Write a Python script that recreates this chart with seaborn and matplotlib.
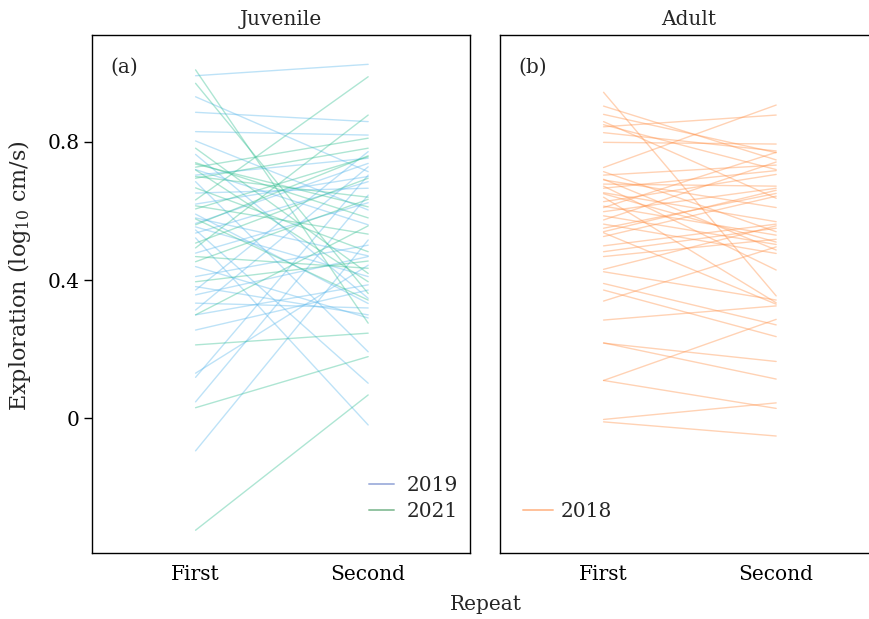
import numpy as np
import pandas as pd
import matplotlib
matplotlib.use("Agg")
import matplotlib.pyplot as plt
from matplotlib.lines import Line2D
import seaborn as sns

# Exploration scores (log10 cm/s) for the first and second trial of each individual
juv2019_first = [0.992, 0.931, 0.886, 0.830, 0.803, 0.764, 0.704, 0.685, 0.652, 0.591,
                 0.564, 0.554, 0.545, 0.536, 0.522, 0.478, 0.439, 0.410, 0.381, 0.371,
                 0.357, 0.333, 0.313, 0.299, 0.255, 0.130, 0.118, 0.047, -0.095,
                 0.720, 0.620, 0.580]
juv2019_second = [1.025, 0.714, 0.859, 0.820, 0.603, 0.347, 0.753, 0.192, 0.666, 0.332,
                  0.738, 0.410, 0.101, 0.685, -0.020, 0.624, 0.290, 0.501, 0.299, 0.772,
                  0.468, 0.319, 0.728, 0.386, 0.371, 0.443, 0.704, 0.646, 0.516,
                  0.560, 0.700, 0.470]

juv2021_first = [1.009, 0.970, 0.782, 0.736, 0.727, 0.719, 0.695, 0.667, 0.632, 0.615,
                 0.606, 0.577, 0.507, 0.493, 0.468, 0.453, 0.395, 0.299, 0.212, 0.030, -0.325,
                 0.700, 0.560, 0.740]
juv2021_second = [0.275, 0.361, 0.419, 0.612, 0.811, 0.395, 0.782, 0.482, 0.989, 0.533,
                  0.757, 0.342, 0.695, 0.878, 0.434, 0.634, 0.455, 0.557, 0.246, 0.178, 0.067,
                  0.640, 0.760, 0.580]

adult2018_first = [0.944, 0.904, 0.880, 0.859, 0.844, 0.827, 0.799, 0.726, 0.714, 0.704,
                   0.692, 0.678, 0.672, 0.666, 0.653, 0.640, 0.627, 0.614, 0.598, 0.586,
                   0.574, 0.562, 0.550, 0.537, 0.526, 0.499, 0.482, 0.468, 0.431, 0.424,
                   0.390, 0.371, 0.339, 0.284, 0.218, 0.217, 0.109, 0.109, -0.004, -0.011,
                   0.850, 0.690, 0.610, 0.650, 0.540]
adult2018_second = [0.354, 0.748, 0.769, 0.637, 0.878, 0.774, 0.794, 0.907, 0.540, 0.733,
                    0.487, 0.672, 0.429, 0.717, 0.569, 0.334, 0.706, 0.530, 0.666, 0.503,
                    0.742, 0.477, 0.651, 0.330, 0.643, 0.562, 0.550, 0.518, 0.557, 0.342,
                    0.270, 0.236, 0.496, 0.325, 0.113, 0.164, 0.028, 0.286, 0.044, -0.052,
                    0.720, 0.610, 0.770, 0.510, 0.660]

repeat_labels = ["First", "Second"]
panel_titles = ["Juvenile", "Adult"]
panel_tags = ["(a)", "(b)"]


def long_table(first, second, year, start_id):
    rows = []
    for i, (a, b) in enumerate(zip(first, second)):
        rows.append((start_id + i, 0, a, year))
        rows.append((start_id + i, 1, b, year))
    return pd.DataFrame(rows, columns=["id", "repeat", "exploration", "year"])


juv = pd.concat([long_table(juv2019_first, juv2019_second, "2019", 0),
                 long_table(juv2021_first, juv2021_second, "2021", 100)],
                ignore_index=True)
adult = long_table(adult2018_first, adult2018_second, "2018", 200)

sns.set_theme(style="white")
plt.rcParams["font.family"] = ["DejaVu Serif"]
plt.rcParams["mathtext.fontset"] = "dejavuserif"
plt.rcParams["mathtext.default"] = "regular"

line_colors = {"2019": "#5CB8EC", "2021": "#35C093", "2018": "#FF8F45"}
legend_colors = {"2019": "#A7B5DF", "2021": "#93C4A2", "2018": "#FFC19A"}

FS = 14.5
fig = plt.figure(figsize=(8.69, 6.19), dpi=100)
W, H = 869, 619
axL = fig.add_axes([92 / W, (H - 553) / H, 378 / W, 518 / H])
axR = fig.add_axes([500 / W, (H - 553) / H, 378 / W, 518 / H])

sns.lineplot(data=juv, x="repeat", y="exploration", units="id", estimator=None,
             hue="year", palette=line_colors, alpha=0.4, linewidth=1.0,
             legend=False, ax=axL)
sns.lineplot(data=adult, x="repeat", y="exploration", units="id", estimator=None,
             hue="year", palette=line_colors, alpha=0.4, linewidth=1.0,
             legend=False, ax=axR)

ylim = (-0.391, 1.110)
xlim = (-0.6, 1.59)
for ax, title, tag in zip([axL, axR], panel_titles, panel_tags):
    ax.set_xlim(*xlim)
    ax.set_ylim(*ylim)
    ax.set_xticks([0, 1])
    ax.set_xticklabels(repeat_labels, fontsize=FS)
    ax.set_xlabel("")
    ax.set_ylabel("")
    ax.set_title(title, fontsize=FS, pad=7)
    for s in ax.spines.values():
        s.set_color("black")
        s.set_linewidth(1.0)
    ax.tick_params(axis="both", direction="out", length=6, width=1,
                   color="black", labelcolor="black", pad=3)
    ax.text(0.048, 0.938, tag, transform=ax.transAxes, fontsize=FS,
            va="center", ha="left")

axL.set_yticks([0, 0.4, 0.8])
axL.set_yticklabels(["0", "0.4", "0.8"], fontsize=FS)
axL.tick_params(axis="y", left=True)
axR.set_yticks([])
axR.spines["right"].set_visible(False)

axL.set_ylabel("Exploration (log$_{10}$ cm/s)", fontsize=16)
axL.yaxis.set_label_coords(-0.155, 0.535)
fig.text(486 / W, 1 - 605 / H, "Repeat", ha="center", va="center", fontsize=FS)

h19 = Line2D([], [], color=legend_colors["2019"], lw=1.4)
h21 = Line2D([], [], color=legend_colors["2021"], lw=1.4)
axL.legend([h19, h21], ["2019", "2021"], loc="lower right",
           bbox_to_anchor=(1.0, 0.038), frameon=False, fontsize=FS,
           handlelength=1.25, handletextpad=0.6, labelspacing=0.35,
           borderaxespad=0.2)
h18 = Line2D([], [], color=legend_colors["2018"], lw=1.4)
axR.legend([h18], ["2018"], loc="lower left", bbox_to_anchor=(0.028, 0.039),
           frameon=False, fontsize=FS, handlelength=1.5, handletextpad=0.4,
           borderaxespad=0.2)

fig.savefig("out.png", dpi=100)
